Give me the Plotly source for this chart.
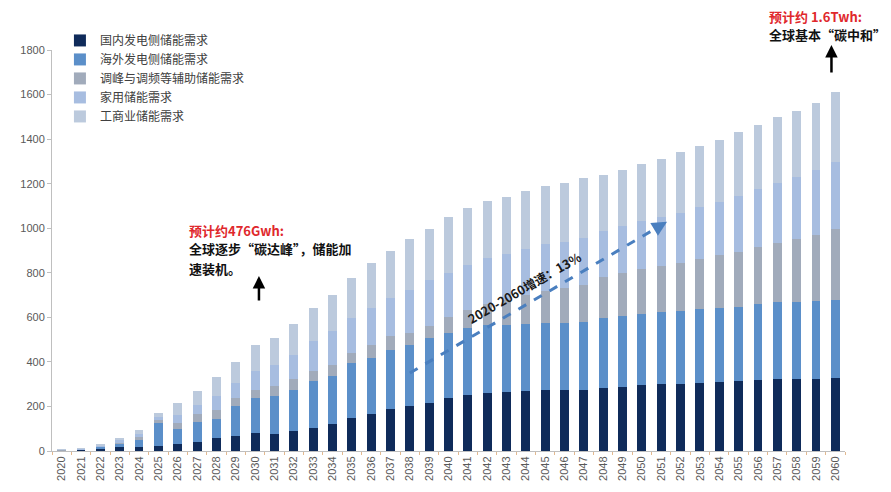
import plotly.graph_objects as go

# Energy-storage demand forecast (GWh), 2020-2060
years = list(range(2020, 2061))
year_labels = [str(y) for y in years]

domestic_gen = [3, 5, 13, 17, 18, 22, 33, 42, 58, 67,
                82, 75, 90, 104, 122, 149, 167, 187, 201, 216,
                237, 251, 261, 266, 269, 272, 273, 276, 281, 287,
                295, 299, 300, 306, 311, 313, 320, 323, 324, 325, 328]
overseas_gen = [1, 2, 5, 15, 30, 105, 64, 89, 84, 134,
                157, 171, 186, 209, 214, 246, 251, 268, 277, 291,
                294, 301, 306, 301, 301, 302, 302, 303, 317, 320,
                322, 325, 327, 330, 332, 335, 340, 344, 346, 348, 351]
grid_ancillary = [1, 1, 3, 8, 15, 10, 30, 35, 40, 38,
                  37, 45, 45, 45, 52, 45, 60, 60, 52, 53,
                  70, 80, 95, 110, 130, 145, 155, 167, 185, 192,
                  200, 208, 216, 226, 236, 245, 254, 268, 282, 298, 318]
household = [1, 1, 3, 8, 12, 15, 35, 40, 65, 67,
             82, 97, 112, 135, 149, 157, 164, 172, 194, 209,
             200, 205, 205, 206, 208, 208, 209, 209, 205, 210,
             215, 220, 224, 232, 240, 250, 261, 270, 278, 290, 300]
commercial = [1, 1, 4, 10, 18, 20, 53, 64, 84, 92,
              118, 120, 138, 149, 163, 181, 203, 210, 226, 227,
              249, 253, 255, 257, 258, 261, 265, 269, 252, 253,
              258, 259, 273, 275, 277, 287, 288, 295, 298, 303, 313]

series_names = ["国内发电侧储能需求", "海外发电侧储能需求", "调峰与调频等辅助储能需求",
                "家用储能需求", "工商业储能需求"]
series_values = [domestic_gen, overseas_gen, grid_ancillary, household, commercial]
series_colors = ["#0f2b5a", "#5b8fc9", "#a1abbb", "#a7bde0", "#bccadd"]

y_ticks = list(range(0, 1801, 200))

CJK = "Noto Sans CJK SC"
LAT = "Liberation Sans, Arial, sans-serif"

fig = go.Figure()
for name, vals, col in zip(series_names, series_values, series_colors):
    fig.add_trace(go.Bar(
        x=years, y=vals, name=name, width=0.46,
        marker=dict(color=col, line=dict(width=0)),
    ))

fig.update_layout(
    width=891, height=492,
    barmode="stack",
    paper_bgcolor="white", plot_bgcolor="white",
    margin=dict(l=52, r=46, t=50, b=41),
    showlegend=True,
    legend=dict(
        x=0.01, y=1.06, xanchor="left", yanchor="top",
        font=dict(family=CJK, size=12, color="#404040"),
        bgcolor="rgba(0,0,0,0)", traceorder="normal",
        itemwidth=30, tracegroupgap=0,
    ),
    xaxis=dict(
        range=[2019.5, 2060.5], tickmode="array", tickvals=years, ticktext=year_labels,
        tickangle=-90, ticks="", showline=True, linecolor="#bfbfbf", linewidth=1,
        tickfont=dict(family=LAT, size=11, color="#595959"),
        showgrid=False, zeroline=False, automargin=False,
        minor=dict(tickmode="linear", tick0=2019.5, dtick=1, ticks="outside",
                   ticklen=3, tickcolor="#e3b98f", tickwidth=1, showgrid=False),
    ),
    yaxis=dict(
        range=[0, 1800], tickmode="array", tickvals=y_ticks,
        ticks="outside", ticklen=4, tickcolor="#bfbfbf",
        showline=True, linecolor="#bfbfbf", linewidth=1,
        tickfont=dict(family=LAT, size=11, color="#595959"),
        showgrid=False, zeroline=False, automargin=False,
    ),
)

# Dashed trend line with arrowhead
x0, y0, x1, y1 = 2038.0, 350, 2051.3, 1029
fig.add_shape(type="line", x0=x0, y0=y0, x1=x1 - 0.35, y1=y1 - 18,
              xref="x", yref="y",
              line=dict(color="#4a7fbf", width=3, dash="dash"))
fig.add_annotation(x=x1, y=y1, ax=x1 - 0.7, ay=y1 - 36, xref="x", yref="y",
                   axref="x", ayref="y", showarrow=True, arrowhead=2,
                   arrowsize=1, arrowwidth=3, arrowcolor="#4a7fbf", text="")
fig.add_annotation(x=2043.9, y=736, xref="x", yref="y", showarrow=False,
                   text="<b>2020-2060增速：13%</b>", textangle=-30,
                   font=dict(family=CJK, size=12.5, color="#1a1a1a"))

# 2030 note
note_font = 13
fig.add_annotation(x=2026.5, y=992, xref="x", yref="y", xanchor="left", showarrow=False,
                   text="<b>预计约476Gwh:</b>", font=dict(family=CJK, size=note_font, color="#e0282c"))
fig.add_annotation(x=2026.5, y=907, xref="x", yref="y", xanchor="left", showarrow=False,
                   text="<b>全球逐步“碳达峰”，储能加</b>", font=dict(family=CJK, size=note_font, color="#111111"))
fig.add_annotation(x=2026.5, y=821, xref="x", yref="y", xanchor="left", showarrow=False,
                   text="<b>速装机。</b>", font=dict(family=CJK, size=note_font, color="#111111"))
fig.add_annotation(x=2030.2, y=785, ax=2030.2, ay=669, xref="x", yref="y",
                   axref="x", ayref="y", showarrow=True, arrowhead=2, arrowsize=1,
                   arrowwidth=2.5, arrowcolor="#000000", text="")

# 2060 note (placed above the plot area, so positioned in paper units)
fig.add_annotation(x=2056.45, y=1.083, xref="x", yref="paper", xanchor="left", yanchor="middle",
                   showarrow=False, text="<b>预计约 1.6Twh:</b>",
                   font=dict(family=CJK, size=note_font, color="#e0282c"))
fig.add_annotation(x=2056.45, y=1.038, xref="x", yref="paper", xanchor="left", yanchor="middle",
                   showarrow=False, text="<b>全球基本“碳中和”</b>",
                   font=dict(family=CJK, size=note_font, color="#111111"))
fig.add_annotation(x=2059.8, y=1822, ax=2059.8, ay=1692, xref="x", yref="y",
                   axref="x", ayref="y", showarrow=True, arrowhead=2, arrowsize=1,
                   arrowwidth=2.5, arrowcolor="#000000", text="")

fig.write_html("out.html")
